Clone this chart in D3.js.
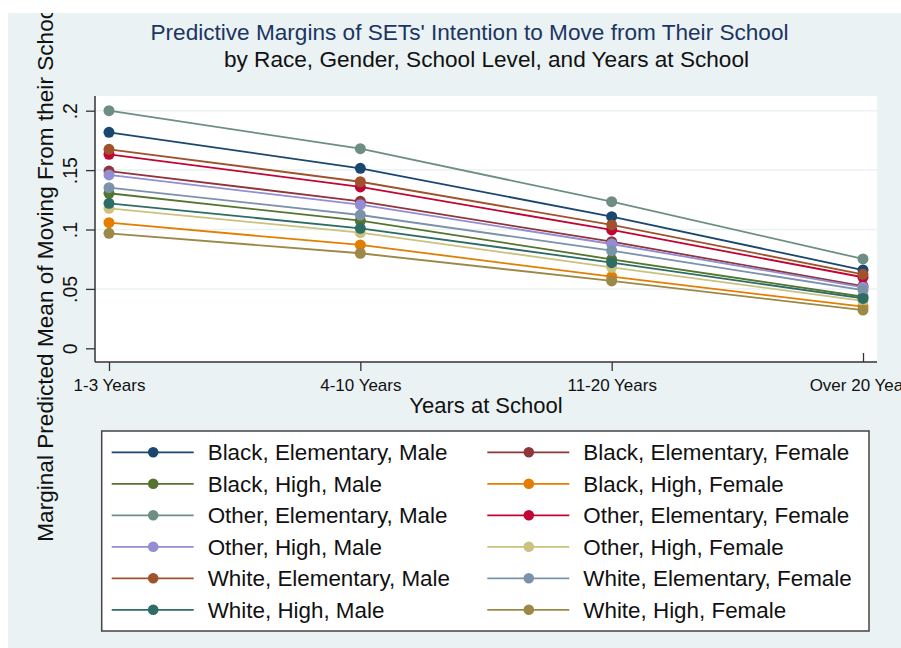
<!DOCTYPE html>
<head>
  <meta charset="utf-8">
  <script src="https://d3js.org/d3.v7.min.js"></script>
  <style>
    body { margin: 0; background: #fff; }
    text { font-family: "Liberation Sans", Arial, Helvetica, sans-serif; }
  </style>
</head>
<body>
  <svg width="901" height="648"></svg>
  <script>
    // years-at-school categories (x axis)
    const years = ['1-3 Years', '4-10 Years', '11-20 Years', 'Over 20 Years'];
    const yTicks = [0, 0.05, 0.1, 0.15, 0.2];

    // series labels, in legend order (row by row)
    const groups = [
      'Black, Elementary, Male', 'Black, Elementary, Female',
      'Black, High, Male', 'Black, High, Female',
      'Other, Elementary, Male', 'Other, Elementary, Female',
      'Other, High, Male', 'Other, High, Female',
      'White, Elementary, Male', 'White, Elementary, Female',
      'White, High, Male', 'White, High, Female'
    ];

    // predicted margins, one row per group, one value per years category
    const margins = [
      [0.1818, 0.1515, 0.1108, 0.0659],
      [0.1492, 0.1237, 0.0897, 0.0524],
      [0.1305, 0.1074, 0.0749, 0.0434],
      [0.1057, 0.0870, 0.0603, 0.0350],
      [0.2000, 0.1680, 0.1234, 0.0752],
      [0.1633, 0.1358, 0.0996, 0.0598],
      [0.1459, 0.1209, 0.0878, 0.0513],
      [0.1178, 0.0973, 0.0682, 0.0400],
      [0.1675, 0.1402, 0.1038, 0.0623],
      [0.1352, 0.1122, 0.0822, 0.0490],
      [0.1220, 0.1010, 0.0721, 0.0420],
      [0.0968, 0.0800, 0.0567, 0.0322]
    ];

    // stata s2color palette
    const colors = ['#1a476f', '#90353b', '#55752f', '#e37e00', '#6e8e84', '#c10534',
                    '#938dd2', '#cac27e', '#a0522d', '#7b92a8', '#2d6d66', '#9c8847'];

    const series = groups.map((g, i) => ({
      name: g,
      color: colors[i],
      values: margins[i].map((v, j) => ({ year: years[j], v }))
    }));

    const svg = d3.select('svg');

    svg.append('clipPath').attr('id', 'frame')
      .append('rect').attr('x', 8).attr('y', 13).attr('width', 893).attr('height', 635);

    const root = svg.append('g').attr('clip-path', 'url(#frame)');

    root.append('rect')
      .attr('x', 8).attr('y', 13).attr('width', 893).attr('height', 635)
      .attr('fill', '#eaf2f3');

    // plot region
    const plot = { left: 95, top: 96, right: 877, bottom: 362 };
    root.append('rect')
      .attr('x', plot.left).attr('y', plot.top)
      .attr('width', plot.right - plot.left).attr('height', plot.bottom - plot.top)
      .attr('fill', '#fff');

    const x = d3.scalePoint().domain(years).range([109, 863]);
    const y = d3.scaleLinear().domain([0, 0.2]).range([348.3, 110.7]);

    // gridlines
    root.append('g').selectAll('line')
      .data(yTicks.filter(d => d > 0))
      .join('line')
      .attr('x1', plot.left).attr('x2', plot.right)
      .attr('y1', d => y(d)).attr('y2', d => y(d))
      .attr('stroke', '#eaf2f3').attr('stroke-width', 1.5);

    // y axis
    const fmt = d => d === 0 ? '0' : String(d).replace(/^0/, '');
    const yAxis = root.append('g')
      .attr('transform', `translate(${plot.left},0)`)
      .call(d3.axisLeft(y).tickValues(yTicks).tickFormat(fmt).tickSize(9));
    yAxis.select('.domain').remove();
    yAxis.selectAll('.tick line').attr('stroke', '#333').attr('stroke-width', 1.3);
    yAxis.selectAll('.tick text')
      .attr('transform', 'rotate(-90)')
      .attr('x', 0).attr('y', -18).attr('dy', 0)
      .attr('text-anchor', 'middle')
      .attr('font-size', 19.5).attr('fill', '#111')
      .style('font-family', '"Liberation Sans", Arial, sans-serif');

    // x axis
    const xAxis = root.append('g')
      .attr('transform', `translate(0,${plot.bottom})`)
      .call(d3.axisBottom(x).tickSize(9).tickSizeOuter(0));
    xAxis.select('.domain').remove();
    xAxis.selectAll('.tick line').attr('stroke', '#333').attr('stroke-width', 1.3)
      .attr('y2', (d, i) => i === years.length - 1 ? -9 : 9);
    xAxis.selectAll('.tick text')
      .attr('y', 28.5).attr('dy', 0)
      .attr('font-size', 17).attr('fill', '#111')
      .style('font-family', '"Liberation Sans", Arial, sans-serif');

    // axis lines
    root.append('line')
      .attr('x1', plot.left).attr('x2', plot.left)
      .attr('y1', plot.top).attr('y2', plot.bottom)
      .attr('stroke', '#333').attr('stroke-width', 1.5);
    root.append('line')
      .attr('x1', plot.left).attr('x2', plot.right)
      .attr('y1', plot.bottom).attr('y2', plot.bottom)
      .attr('stroke', '#333').attr('stroke-width', 1.5);

    // series
    const line = d3.line().x(d => x(d.year)).y(d => y(d.v));
    const sg = root.append('g').selectAll('g')
      .data(series)
      .join('g');
    sg.append('path')
      .attr('d', d => line(d.values))
      .attr('fill', 'none')
      .attr('stroke', d => d.color)
      .attr('stroke-width', 1.8);
    sg.selectAll('circle')
      .data(d => d.values.map(p => ({ ...p, color: d.color })))
      .join('circle')
      .attr('cx', d => x(d.year)).attr('cy', d => y(d.v))
      .attr('r', 5.5)
      .attr('fill', d => d.color);

    // titles
    root.append('text')
      .attr('x', 469.5).attr('y', 40)
      .attr('text-anchor', 'middle')
      .attr('font-size', 22.6).attr('fill', '#1c3563')
      .text("Predictive Margins of SETs' Intention to Move from Their School");
    root.append('text')
      .attr('x', 486.5).attr('y', 67)
      .attr('text-anchor', 'middle')
      .attr('font-size', 22.6).attr('fill', '#111')
      .text('by Race, Gender, School Level, and Years at School');

    root.append('text')
      .attr('x', 486).attr('y', 413)
      .attr('text-anchor', 'middle')
      .attr('font-size', 22).attr('fill', '#111')
      .text('Years at School');

    root.append('text')
      .attr('transform', 'translate(53,541.7) rotate(-90)')
      .attr('text-anchor', 'start')
      .attr('font-size', 22.6).attr('fill', '#111')
      .text('Marginal Predicted Mean of Moving From their School');

    // legend
    const legend = root.append('g');
    legend.append('rect')
      .attr('x', 101.7).attr('y', 431)
      .attr('width', 869 - 101.7).attr('height', 631 - 431)
      .attr('fill', '#fff').attr('stroke', '#444').attr('stroke-width', 1.5);

    const colX = [111.7, 487.3];
    const items = legend.selectAll('g.item')
      .data(series)
      .join('g')
      .attr('class', 'item')
      .attr('transform', (d, i) =>
        `translate(${colX[i % 2]},${452.3 + Math.floor(i / 2) * 31.5})`);
    items.append('line')
      .attr('x1', 0).attr('x2', 82)
      .attr('stroke', d => d.color).attr('stroke-width', 1.8);
    items.append('circle')
      .attr('cx', 41.5).attr('r', 5.3)
      .attr('fill', d => d.color);
    items.append('text')
      .attr('x', 96).attr('y', 8)
      .attr('font-size', 22.4).attr('fill', '#111')
      .text(d => d.name);
  </script>
</body>
